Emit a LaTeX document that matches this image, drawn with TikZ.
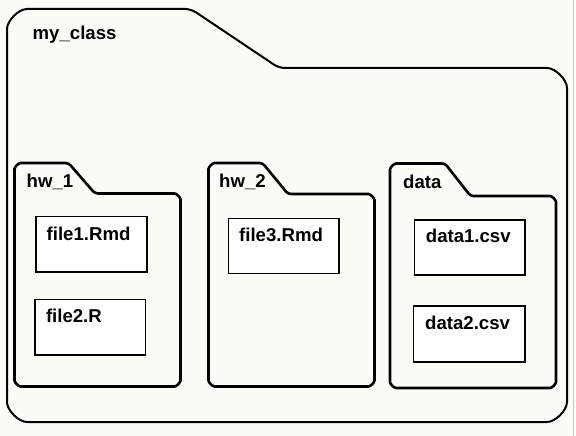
\documentclass[tikz,border=0pt]{standalone}
\usepackage{fontspec}
\setmainfont{Liberation Sans}
\definecolor{bgcol}{RGB}{252,252,246}
\definecolor{edgecol}{RGB}{200,200,200}
\tikzset{
  outerline/.style={line width=2pt, draw=black, line join=round, rounded corners=6},
  folderline/.style={line width=2.6pt, draw=black, line join=round, rounded corners=3},
  filebox/.style={draw=black, fill=white, line width=1.6pt, inner sep=0pt, minimum width=111, minimum height=55},
  lbl/.style={anchor=base west, inner sep=0pt, font=\fontsize{18.6}{20}\selectfont\bfseries}
}
% #1 L, #2 R, #3 tab top, #4 tab right, #5 shoulder x, #6 shoulder y, #7 bottom, #8 radius, #9 style
\newcommand\myfolder[9]{%
  \draw[#9] ({#1},{#3+#8}) arc[start angle=180,end angle=270,radius=#8]
    -- (#4,#3) -- (#5,#6) -- ({#2-#8},#6) arc[start angle=270,end angle=360,radius=#8]
    -- (#2,{#7-#8}) arc[start angle=0,end angle=90,radius=#8]
    -- ({#1+#8},#7) arc[start angle=90,end angle=180,radius=#8] -- cycle;}
\begin{document}
\begin{tikzpicture}[x=1pt,y=-1pt]
\useasboundingbox (0,0) rectangle (576,436);
\fill[bgcol] (0,0) rectangle (576,436);
\draw[edgecol, line width=1pt] (573,0) -- (573,436);
% outer folder
\myfolder{7}{567}{9}{191}{279}{68}{422}{26}{outerline}
\node[lbl] (myclass) at (32.5,40) {my\_class};
% sub folders
\myfolder{14.5}{180.5}{163}{68.5}{95}{193.5}{386.5}{9}{folderline}
\myfolder{208.5}{374.5}{163}{262.5}{288}{194}{386.5}{9}{folderline}
\myfolder{390}{556}{163.5}{445}{470.5}{196}{388}{9}{folderline}
\node[lbl] (hw1) at (26.5,187) {hw\_1};
\node[lbl] (hw2) at (219,187.7) {hw\_2};
\node[lbl] (data) at (403,188.3) {data};
% files
\node[filebox, minimum width=111, minimum height=55.5] (f1) at (91.5,244.2) {};
\node[filebox, minimum width=110.5, minimum height=55.5] (f2) at (90.2,327.2) {};
\node[filebox, minimum width=110.7, minimum height=55] (f3) at (283.7,245.8) {};
\node[filebox, minimum width=110.4, minimum height=55] (d1) at (469.5,247.5) {};
\node[filebox, minimum width=111.3, minimum height=56] (d2) at (469.3,334) {};
\node[lbl] (f1t) at (46.5,240) {file1.Rmd};
\node[lbl] (f2t) at (45.8,322.7) {file2.R};
\node[lbl] (f3t) at (239,241) {file3.Rmd};
\node[lbl] (d1t) at (425.7,242.3) {data1.csv};
\node[lbl] (d2t) at (425,329.3) {data2.csv};
\end{tikzpicture}
\end{document}
